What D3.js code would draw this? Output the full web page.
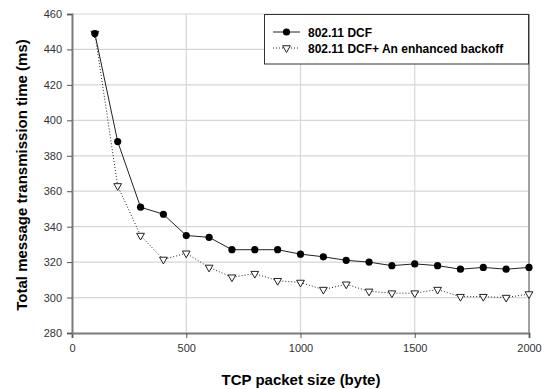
<!DOCTYPE html>
<html>
<head>
<meta charset="utf-8">
<script src="https://cdn.jsdelivr.net/npm/d3@7"></script>
<style>
  body { margin: 0; background: #fff; }
  text { font-family: "Liberation Sans", Arial, sans-serif; }
</style>
</head>
<body>
<svg id="mainsvg" width="555" height="389"></svg>
<script>
// packet sizes (byte)
const sizes = [100, 200, 300, 400, 500, 600, 700, 800, 900, 1000,
               1100, 1200, 1300, 1400, 1500, 1600, 1700, 1800, 1900, 2000];
// total message transmission time (ms)
const dcf = [449, 388, 351, 347, 335, 334, 327, 327, 327, 324.5,
             323, 321, 320, 318, 319, 318, 316, 317, 316, 317];
const enhanced = [449, 363, 335, 321.5, 325, 317, 311.5, 313.5, 309.5, 308.5,
                  304.5, 307.5, 303.5, 302.5, 302.5, 304.5, 300.5, 300.5, 300, 302];
const seriesNames = ['802.11 DCF', '802.11 DCF+ An enhanced backoff'];
const xTicks = [0, 500, 1000, 1500, 2000];
const yTicks = [280, 300, 320, 340, 360, 380, 400, 420, 440, 460];

let svg = d3.select('#mainsvg');
const plotL = 72, plotR = 529, plotT = 14, plotB = 333;

const x = d3.scaleLinear().domain([0, 2000]).range([plotL, plotR]);
const y = d3.scaleLinear().domain([280, 460]).range([plotB, plotT]);

// gridlines
svg.append('g').selectAll('line').data(yTicks.slice(1))
  .enter().append('line')
  .attr('x1', plotL).attr('x2', plotR)
  .attr('y1', d => y(d)).attr('y2', d => y(d))
  .attr('stroke', '#d6d6d6').attr('stroke-width', 1.2);
svg.append('g').selectAll('line').data(xTicks.slice(1))
  .enter().append('line')
  .attr('x1', d => x(d)).attr('x2', d => x(d))
  .attr('y1', plotT).attr('y2', plotB)
  .attr('stroke', '#d6d6d6').attr('stroke-width', 1.2);

// right border of plot
svg.append('line')
  .attr('x1', plotR).attr('x2', plotR).attr('y1', plotT).attr('y2', plotB)
  .attr('stroke', '#8a8a8a').attr('stroke-width', 1.5);

// axes
const xAxis = svg.append('g').attr('transform', `translate(0,${plotB})`)
  .call(d3.axisBottom(x).tickValues(xTicks).tickFormat(d3.format('d')).tickSize(5).tickPadding(6));
const yAxis = svg.append('g').attr('transform', `translate(${plotL},0)`)
  .call(d3.axisLeft(y).tickValues(yTicks).tickFormat(d3.format('d')).tickSize(5).tickPadding(5));
[xAxis, yAxis].forEach(a => {
  a.select('.domain').attr('stroke', '#7a7a7a').attr('stroke-width', 2);
  a.selectAll('.tick line').attr('stroke', '#555');
  a.selectAll('.tick text').attr('fill', '#333')
    .style('font-size', '11px').style('font-family', '"Liberation Sans", Arial, sans-serif');
});

// series lines
const line = d3.line().x(d => x(d[0])).y(d => y(d[1]));
const dcfPts = sizes.map((s, i) => [s, dcf[i]]);
const enhPts = sizes.map((s, i) => [s, enhanced[i]]);

svg.append('path').datum(enhPts)
  .attr('d', line).attr('fill', 'none')
  .attr('stroke', '#222').attr('stroke-width', 1)
  .attr('stroke-dasharray', '1,2');
svg.append('path').datum(dcfPts)
  .attr('d', line).attr('fill', 'none')
  .attr('stroke', '#222').attr('stroke-width', 1);

const tri = d3.symbol().type(d3.symbolTriangle).size(26);

svg.append('g').selectAll('path').data(enhPts)
  .enter().append('path')
  .attr('d', tri)
  .attr('transform', d => `translate(${x(d[0])},${y(d[1])}) rotate(180)`)
  .attr('fill', '#fff').attr('stroke', '#222').attr('stroke-width', 1);

svg.append('g').selectAll('circle').data(dcfPts)
  .enter().append('circle')
  .attr('cx', d => x(d[0])).attr('cy', d => y(d[1]))
  .attr('r', 3.6).attr('fill', '#000');

// axis titles
svg.append('text')
  .attr('x', 301).attr('y', 385)
  .attr('text-anchor', 'middle')
  .style('font-size', '15px').style('font-weight', 'bold')
  .text('TCP packet size (byte)');
svg.append('text')
  .attr('transform', 'translate(27,175) rotate(-90)')
  .attr('text-anchor', 'middle')
  .style('font-size', '15px').style('font-weight', 'bold')
  .text('Total message transmission time (ms)');

// legend
const lg = svg.append('g');
lg.append('rect')
  .attr('x', 264.5).attr('y', 14.5).attr('width', 264).attr('height', 49.5)
  .attr('fill', '#fff').attr('stroke', '#333').attr('stroke-width', 1);

const rows = [32, 48];
lg.append('line').attr('x1', 273).attr('x2', 300).attr('y1', rows[0]).attr('y2', rows[0])
  .attr('stroke', '#222');
lg.append('circle').attr('cx', 286.5).attr('cy', rows[0]).attr('r', 3.6).attr('fill', '#000');
lg.append('line').attr('x1', 273).attr('x2', 300).attr('y1', rows[1]).attr('y2', rows[1])
  .attr('stroke', '#222').attr('stroke-dasharray', '1,2');
lg.append('path').attr('d', tri)
  .attr('transform', `translate(286.5,${rows[1]}) rotate(180)`)
  .attr('fill', '#fff').attr('stroke', '#222');

lg.selectAll('text.lab').data(seriesNames)
  .enter().append('text')
  .attr('x', 308).attr('y', (d, i) => rows[i] + 4.5)
  .style('font-size', '12px').style('font-weight', 'bold')
  .text(d => d);
</script>
</body>
</html>
